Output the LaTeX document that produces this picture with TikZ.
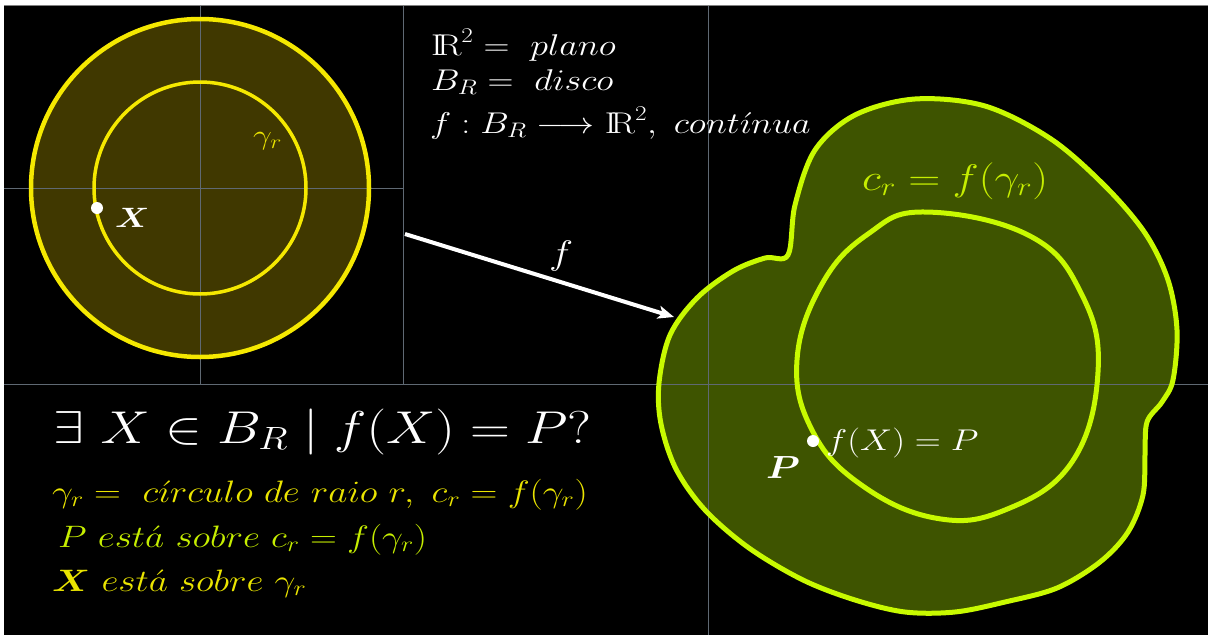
\RequirePackage{fix-cm}
\documentclass[tikz,border=0pt]{standalone}
\usepackage{amsmath}
\usepackage{graphicx}
\usetikzlibrary{arrows.meta}
\definecolor{diskfill}{RGB}{64,56,0}
\definecolor{diskline}{RGB}{245,232,0}
\definecolor{blobfill}{RGB}{62,84,0}
\definecolor{blobline}{RGB}{200,250,0}
\definecolor{gridc}{RGB}{95,105,115}
\definecolor{txtyellow}{RGB}{234,228,0}
\definecolor{txtlime}{RGB}{198,238,0}
\newcommand\wtxt[2]{\scalebox{1.2}[1]{\fontsize{#1}{#1}\selectfont #2}}
\tikzset{
  gridline/.style={draw=gridc, line width=0.9pt},
  diskstroke/.style={draw=diskline},
  blobstroke/.style={draw=blobline},
  dotnode/.style={circle, fill=white, inner sep=0pt, minimum size=12pt},
  txt/.style={inner sep=0pt, anchor=base west},
  maparrow/.style={draw=white, line width=4pt, -{Stealth[length=16pt,width=13pt,inset=4pt]}},
}
\begin{document}
\begin{tikzpicture}[x=1pt,y=-1pt]
\useasboundingbox (0,0) rectangle (1208,635);
\fill[white] (0,0) rectangle (1208,635);
\fill[black] (4,6) rectangle (1208,635);
\draw[gray, line width=1pt] (4,5.5) -- (1208,5.5);

% fills
\fill[diskfill] (200,188) circle[radius=169];
\path[save path=\outerP] plot[smooth cycle, tension=0.55] coordinates {
 (788,255) (795,205) (815,150) (855,115) (915,99) (985,106) (1051,139) (1105,186) (1145,233)
 (1168,280) (1177,330) (1173,380) (1162,402) (1147,422) (1145,455) (1143,495) (1128,532)
 (1100,562) (1057,588) (1005,602) (955,612) (905,612) (855,600) (803,580) (749,548)
 (705,510) (676,469) (661,424) (659,383) (670,335) (697,298) (733,271) (765,258)};
\path[save path=\innerP] plot[smooth cycle, tension=0.7] coordinates {
 (925,212) (1030,236) (1082,295) (1098,372) (1072,462) (1005,510) (935,518)
 (860,484) (812,430) (797,360) (822,284) (868,234)};
\fill[blobfill, use path=\outerP];

% grid lines
\draw[gridline] (200,6) -- (200,384);
\draw[gridline] (403,6) -- (403,384);
\draw[gridline] (4,188) -- (403,188);
\draw[gridline] (4,384) -- (1208,384);
\draw[gridline] (708,6) -- (708,635);

% strokes
\draw[diskstroke, line width=4.5pt] (200,188) circle[radius=169];
\draw[diskstroke, line width=3.5pt] (200,188) circle[radius=106];
\draw[blobstroke, line width=5pt, use path=\outerP];
\draw[blobstroke, line width=5pt, use path=\innerP];

% points and labels
\node[dotnode] (X) at (97,208) {};
\node[txt, text=white] (Xlab) at (115,227) {\wtxt{28}{$\boldsymbol{X}$}};
\node[txt, text=txtyellow] (gam) at (253,144) {\wtxt{28}{$\gamma_r$}};
\node[dotnode] (P) at (813,441) {};
\node[txt, text=white] (flab2) at (826,450) {\wtxt{30}{$f(X) = P$}};
\node[txt, text=white] (Plab) at (766,478) {\wtxt{32}{$\boldsymbol{P}$}};
\node[txt, text=txtlime] (crlab) at (862,190) {\wtxt{37}{$c_r = f(\gamma_r)$}};

% arrow
\coordinate (fs) at (405,234);
\coordinate (fe) at (674,317);
\draw[maparrow] (fs) -- (fe);
\node[txt, text=white] (flab) at (549,264) {\wtxt{34}{$f$}};

% top text
\node[txt, text=white] (t1) at (431,55) {\wtxt{30}{$\mathrm{I\!R}^2 =\ plano$}};
\node[txt, text=white] (t2) at (431,90) {\wtxt{30}{$B_R =\ disco$}};
\node[txt, text=white] (t3) at (430,133) {\wtxt{30}{$f: B_R \longrightarrow \mathrm{I\!R}^2,\ cont\acute{\imath}nua$}};

% bottom text
\node[txt, text=white] (q) at (53,443) {\wtxt{46}{$\exists\ X \in B_R \mid f(X) = P$?}};
\node[txt, text=txtyellow] (l1) at (52,502) {\wtxt{31}{$\gamma_r =\ c\acute{\imath}rculo\ de\ raio\ r,\ c_r = f(\gamma_r)$}};
\node[txt, text=txtlime] (l2) at (58,547) {\wtxt{31}{$P\ est\acute{a}\ sobre\ c_r = f(\gamma_r)$}};
\node[txt, text=txtyellow] (l3) at (52,591) {\wtxt{31}{$\boldsymbol{X}\ est\acute{a}\ sobre\ \gamma_r$}};
\end{tikzpicture}
\end{document}
